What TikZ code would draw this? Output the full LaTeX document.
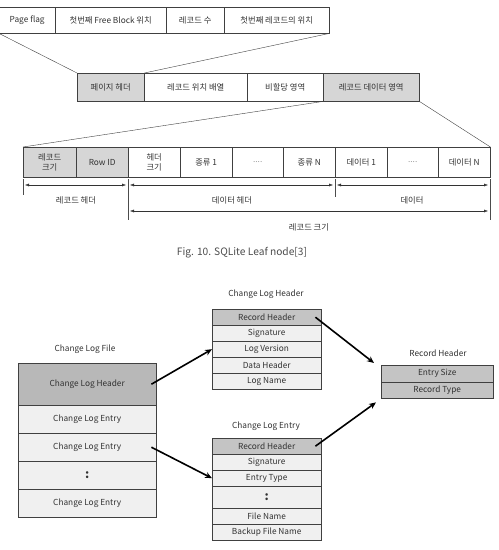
\documentclass[tikz,border=0pt]{standalone}
\usepackage{fontspec}
\setmainfont{Noto Sans CJK KR}
\usetikzlibrary{arrows.meta,positioning}
\definecolor{CellGray}{RGB}{214,214,214}
\definecolor{HeadGray}{RGB}{184,184,184}
\definecolor{RowGray}{RGB}{196,196,196}
\definecolor{RowLight}{RGB}{240,240,240}
\definecolor{TxtGray}{RGB}{50,50,50}

\begin{document}
\begin{tikzpicture}[x=1pt,y=-1pt,
	cell/.style={draw=black!75,anchor=north west,inner sep=0pt,align=center,
		text=TxtGray,font=\fontsize{8.3}{10}\selectfont},
	dim/.style={{Latex[length=4pt,width=3pt]}-{Latex[length=4pt,width=3pt]},black!80},
	tick/.style={black!70},
	lbl/.style={text=TxtGray,font=\fontsize{8.3}{10}\selectfont},
	bigarrow/.style={-{Stealth[length=7pt,width=6pt]},line width=1.6pt}]
	\useasboundingbox (0,0) rectangle (499,550);
	
	% 페이지 헤더 내부
	\node[cell,minimum width=56pt,minimum height=26pt] (pf) at (-1,7) {Page flag};
	\node[cell,minimum width=111pt,minimum height=26pt] (fb) at (55,7) {첫번째 Free Block 위치};
	\node[cell,minimum width=58pt,minimum height=26pt] (rc) at (166,7) {레코드 수};
	\node[cell,minimum width=105pt,minimum height=26pt] (fr) at (224,7) {첫번째 레코드의 위치};
	
	% 페이지 구조
	\node[cell,fill=CellGray,minimum width=67pt,minimum height=28pt] (ph) at (77,73) {페이지 헤더};
	\node[cell,minimum width=103pt,minimum height=28pt] (ra) at (144,73) {레코드 위치 배열};
	\node[cell,minimum width=76pt,minimum height=28pt] (ua) at (247,73) {비할당 영역};
	\node[cell,fill=CellGray,minimum width=96pt,minimum height=28pt] (da) at (323,73) {레코드 데이터 영역};
	
	% 확대선
	\draw[black!75] (pf.south west) -- (ph.north west);
	\draw[black!75] (fr.south east) -- (ph.north east);
	
	% 레코드 구조
	\node[cell,fill=CellGray,minimum width=53pt,minimum height=30pt] (rs) at (23,147) {레코드\\크기};
	\node[cell,fill=CellGray,minimum width=52pt,minimum height=30pt] (rid) at (76,147) {Row ID};
	\node[cell,minimum width=52pt,minimum height=30pt] (hs) at (128,147) {헤더\\크기};
	\node[cell,minimum width=52pt,minimum height=30pt] (ty1) at (180,147) {종류 1};
	\node[cell,minimum width=51pt,minimum height=30pt] (tyd) at (232,147) {\textcolor{black!40}{....}};
	\node[cell,minimum width=52pt,minimum height=30pt] (tyn) at (283,147) {종류 N};
	\node[cell,minimum width=52pt,minimum height=30pt] (dt1) at (335,147) {데이터 1};
	\node[cell,minimum width=51pt,minimum height=30pt] (dtd) at (387,147) {\textcolor{black!40}{....}};
	\node[cell,minimum width=52pt,minimum height=30pt] (dtn) at (438,147) {데이터 N};
	
	\draw[black!75] (da.south west) -- (rs.north west);
	\draw[black!75] (da.south east) -- (dtn.north east);
	
	% 치수선
	\coordinate (a0) at (23,179);
	\coordinate (a1) at (128,179);
	\coordinate (a2) at (335,179);
	\coordinate (a3) at (490,179);
	\draw[tick] (a0) -- ++(0,16);
	\draw[tick] (a1) -- ++(0,41);
	\draw[tick] (a2) -- ++(0,18);
	\draw[tick] (a3) -- ++(0,41);
	\draw[dim] ([shift={(2,6)}]a0) -- ([shift={(-2,6)}]a1);
	\draw[dim] ([shift={(2,6)}]a1) -- ([shift={(-2,6)}]a2);
	\draw[dim] ([shift={(2,6)}]a2) -- ([shift={(-2,6)}]a3);
	\draw[dim] ([shift={(2,32)}]a1) -- ([shift={(-2,32)}]a3);
	\node[lbl] (l1) at (76,200) {레코드 헤더};
	\node[lbl] (l2) at (232,200) {데이터 헤더};
	\node[lbl] (l3) at (412,200) {데이터};
	\node[lbl] (l4) at (309,227) {레코드 크기};
	
	% 캡션
	\node[text=black!70,font=\fontsize{10.2}{12}\selectfont] (cap) at (242,253) {Fig. 10. SQLite Leaf node[3]};
	
	% Change Log File
	\node[lbl] (t-clf) at (85,349) {Change Log File};
	\node[cell,fill=HeadGray,minimum width=138pt,minimum height=42pt] (clf-h) at (18,363) {Change Log Header};
	\node[cell,fill=RowLight,minimum width=138pt,minimum height=28pt] (clf-e1) at (18,405) {Change Log Entry};
	\node[cell,fill=RowLight,minimum width=138pt,minimum height=28pt] (clf-e2) at (18,433) {Change Log Entry};
	\node[cell,fill=RowLight,minimum width=138pt,minimum height=28pt] (clf-d) at (18,461) {\textbf{\large :}};
	\node[cell,fill=RowLight,minimum width=138pt,minimum height=28pt] (clf-e3) at (18,489) {Change Log Entry};
	
	% Change Log Header
	\node[lbl] (t-clh) at (266,294) {Change Log Header};
	\node[cell,fill=RowGray,minimum width=109pt,minimum height=16pt] (clh-r) at (212,309) {Record Header};
	\node[cell,fill=RowLight,minimum width=109pt,minimum height=16pt] (clh-s) at (212,325) {Signature};
	\node[cell,fill=RowLight,minimum width=109pt,minimum height=16pt] (clh-v) at (212,341) {Log Version};
	\node[cell,fill=RowLight,minimum width=109pt,minimum height=16pt] (clh-d) at (212,357) {Data Header};
	\node[cell,fill=RowLight,minimum width=109pt,minimum height=16pt] (clh-n) at (212,373) {Log Name};
	
	% Change Log Entry
	\node[lbl] (t-cle) at (266,426) {Change Log Entry};
	\node[cell,fill=RowGray,minimum width=109pt,minimum height=16pt] (cle-r) at (212,438) {Record Header};
	\node[cell,fill=RowLight,minimum width=109pt,minimum height=16pt] (cle-s) at (212,454) {Signature};
	\node[cell,fill=RowLight,minimum width=109pt,minimum height=16pt] (cle-t) at (212,470) {Entry Type};
	\node[cell,fill=RowLight,minimum width=109pt,minimum height=22pt] (cle-d) at (212,486) {\textbf{\large :}};
	\node[cell,fill=RowLight,minimum width=109pt,minimum height=16pt] (cle-f) at (212,508) {File Name};
	\node[cell,fill=RowLight,minimum width=109pt,minimum height=16pt] (cle-b) at (212,524) {Backup File Name};
	
	% Record Header
	\node[lbl] (t-rh) at (438,353) {Record Header};
	\node[cell,fill=RowGray,minimum width=112pt,minimum height=17pt] (rh-s) at (381,365) {Entry Size};
	\node[cell,fill=RowGray,minimum width=112pt,minimum height=16pt] (rh-t) at (381,382) {Record Type};
	
	% 화살표
	\draw[bigarrow] ([xshift=-5pt]clf-h.east) -- (clh-v.west);
	\draw[bigarrow] ([xshift=-5pt]clf-e2.east) -- (cle-t.west);
	\draw[bigarrow] ([xshift=-6pt]clh-r.east) -- ([shift={(-7,-2)}]rh-s.north west);
	\draw[bigarrow] ([xshift=-6pt]cle-r.east) -- ([shift={(-5,4)}]rh-t.south west);
\end{tikzpicture}
\end{document}
